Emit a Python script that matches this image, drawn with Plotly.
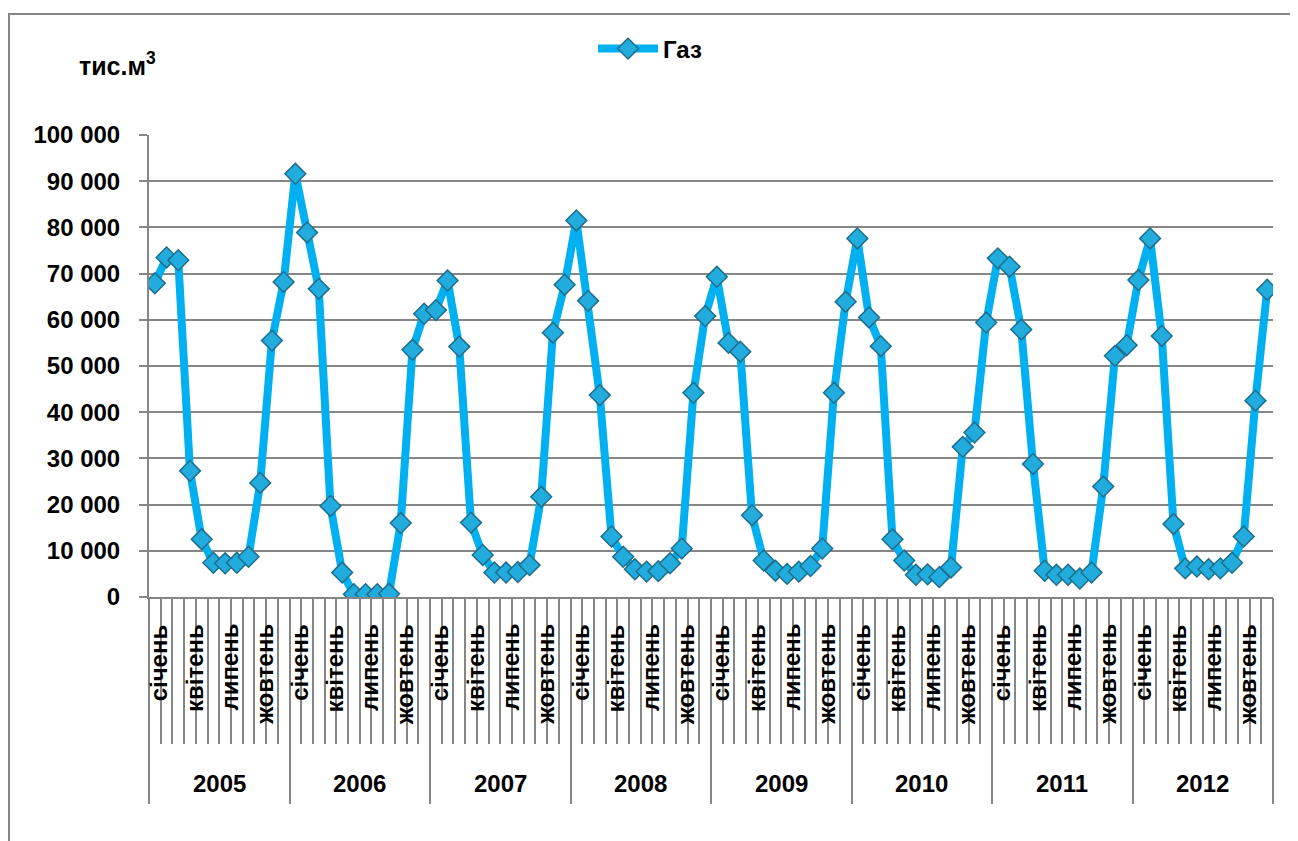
import plotly.graph_objects as go

# ---------------- data (тис. м3) ----------------
years = ["2005", "2006", "2007", "2008", "2009", "2010", "2011", "2012"]
months = ["січень", "лютий", "березень", "квітень", "травень", "червень",
          "липень", "серпень", "вересень", "жовтень", "листопад", "грудень"]

gas_2005 = [67900, 73500, 72900, 27300, 12500, 7400, 7300, 7400, 8700, 24700, 55500, 68200]
gas_2006 = [91600, 78900, 66700, 19700, 5300, 600, 600, 600, 700, 16000, 53500, 61300]
gas_2007 = [62100, 68500, 54200, 16100, 9100, 5300, 5300, 5400, 6900, 21700, 57200, 67600]
gas_2008 = [81500, 64100, 43700, 13100, 8700, 6000, 5500, 5600, 7300, 10500, 44200, 60800]
gas_2009 = [69300, 55000, 53100, 17700, 7900, 5700, 5000, 5500, 6700, 10500, 44200, 63900]
gas_2010 = [77600, 60500, 54300, 12500, 7900, 4800, 4900, 4300, 6400, 32500, 35600, 59400]
gas_2011 = [73300, 71500, 57900, 28800, 5700, 4800, 4800, 4000, 5300, 23900, 52200, 54500]
gas_2012 = [68600, 77600, 56500, 15800, 6200, 6600, 6000, 6200, 7400, 13100, 42500, 66500]

series_name = "Газ"
y_unit = "тис.м<sup>3</sup>"
y_ticks = list(range(0, 100001, 10000))

# ---------------- build ----------------
values = (gas_2005 + gas_2006 + gas_2007 + gas_2008 +
          gas_2009 + gas_2010 + gas_2011 + gas_2012)
n = len(values)
x_idx = list(range(n))

GRAY = "#868686"
FONT = "Liberation Sans, Arial, sans-serif"
FS = 24

# page has an 8px body margin; figure is sized so it ends at the window edge
OFF = 8
WIN_W, WIN_H = 1298, 841
W, H = WIN_W - OFF, WIN_H - OFF
# plot area in window pixels
PL, PR, PT, PB = 149, 1273, 135, 597
ML, MR, MT, MB = PL - OFF, WIN_W - PR, PT - OFF, WIN_H - PB
PW = PR - PL
PH = PB - PT


def px_x(p):
    return (p - PL) / PW


def px_y(p):
    return (PB - p) / PH


fig = go.Figure()
fig.add_trace(go.Scatter(
    x=x_idx, y=values, mode="lines+markers", name=series_name,
    line=dict(color="#00B0F0", width=8),
    marker=dict(symbol="diamond", size=16, color="#22ACDE",
                line=dict(color="#1E6E8A", width=1.5)),
    hoverinfo="y",
))
# helper trace so the overlay axis with year dividers is drawn
fig.add_trace(go.Scatter(x=[0], y=[0], xaxis="x2", mode="markers",
                         marker=dict(opacity=0), showlegend=False,
                         hoverinfo="skip"))

month_bounds = [i - 0.5 for i in range(n + 1)]
year_bounds = [i * 12 - 0.5 for i in range(len(years) + 1)]

annotations = []
for yi, yr in enumerate(years):
    for mi in range(0, 12, 3):
        annotations.append(dict(
            x=yi * 12 + mi, xref="x", y=px_y(622), yref="paper",
            text=months[mi], textangle=-90, showarrow=False,
            xanchor="center", yanchor="top", xshift=4,
            font=dict(family=FONT, size=FS, color="black", weight="bold")))
    annotations.append(dict(
        x=yi * 12 + 5.5, xref="x", y=px_y(783), yref="paper",
        text=yr, showarrow=False, xanchor="center", yanchor="middle",
        font=dict(family=FONT, size=FS, color="black", weight="bold")))

annotations.append(dict(
    x=px_x(117), xref="paper", y=px_y(64), yref="paper", text=y_unit,
    showarrow=False, xanchor="center", yanchor="middle",
    font=dict(family=FONT, size=25, color="black", weight="bold")))

fig.update_layout(
    width=W, height=H,
    paper_bgcolor="white", plot_bgcolor="white",
    margin=dict(l=ML, r=MR, t=MT, b=MB, autoexpand=False),
    separators=". ",
    font=dict(family=FONT, size=FS, color="black"),
    showlegend=True,
    legend=dict(orientation="h", x=px_x(593), xanchor="left",
                y=px_y(49), yanchor="middle", bgcolor="rgba(0,0,0,0)",
                font=dict(family=FONT, size=FS, color="black", weight="bold"),
                itemwidth=60),
    xaxis=dict(range=[-0.5, n - 0.5], showgrid=False, zeroline=False,
               showline=True, linecolor=GRAY, linewidth=2,
               tickmode="array", tickvals=month_bounds, ticks="outside",
               ticklen=145, tickwidth=2, tickcolor=GRAY,
               showticklabels=False, fixedrange=True),
    xaxis2=dict(overlaying="x", anchor="y", side="bottom",
                range=[-0.5, n - 0.5], showgrid=False, zeroline=False,
                showline=False, tickmode="array", tickvals=year_bounds,
                ticks="outside", ticklen=206, tickwidth=2, tickcolor=GRAY,
                showticklabels=False, fixedrange=True),
    yaxis=dict(range=[0, 100000], tickmode="array", tickvals=y_ticks,
               tickformat=",d", showgrid=True, gridcolor=GRAY, gridwidth=2,
               zeroline=False, showline=True, linecolor=GRAY, linewidth=2,
               ticks="outside", ticklen=8, tickwidth=2, tickcolor=GRAY,
               ticklabelstandoff=14,
               tickfont=dict(family=FONT, size=FS, color="black", weight="bold"),
               fixedrange=True),
    annotations=annotations,
    shapes=[dict(type="rect", xref="paper", yref="paper",
                 x0=px_x(9), x1=px_x(1292), y0=px_y(845), y1=px_y(14),
                 line=dict(color=GRAY, width=2), layer="below")],
)

fig.write_html("out.html")
